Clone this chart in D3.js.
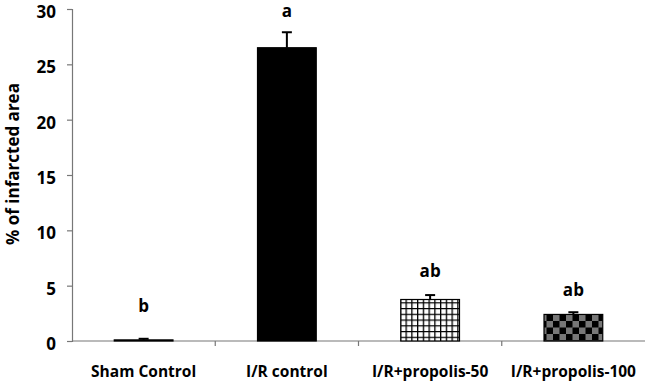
<!DOCTYPE html>
<html>
<head>
<meta charset="utf-8">
<script src="https://cdn.jsdelivr.net/npm/d3@7"></script>
<style>
  body { margin: 0; background: #fff; }
  svg { display: block; font-family: "Open Sans", Lato, sans-serif; font-weight: bold; }
</style>
</head>
<body>
<div id="chart"></div>
<script>
// data
const groups = ["Sham Control", "I/R control", "I/R+propolis-50", "I/R+propolis-100"];
const means = [0.1, 26.5, 3.75, 2.4];
const errs = [0.1, 1.4, 0.4, 0.2];
const letters = ["b", "a", "ab", "ab"];
const letterAt = [2.6, 29.3, 5.8, 4.1];
const yTicks = [0, 5, 10, 15, 20, 25, 30];

const W = 646, H = 383;
const margin = { top: 9, right: 1, bottom: 42, left: 72 };
const width = W - margin.left - margin.right;
const height = H - margin.top - margin.bottom;

const svg = d3.select("#chart").append("svg")
    .attr("width", W).attr("height", H);

const defs = svg.append("defs");

// grid pattern (white squares, black lines)
const grid = defs.append("pattern")
    .attr("id", "grid").attr("patternUnits", "userSpaceOnUse")
    .attr("width", 5.75).attr("height", 5.75);
grid.append("rect").attr("width", 5.75).attr("height", 5.75).attr("fill", "#fff");
grid.append("path").attr("d", "M0,0H5.75M0,0V5.75")
    .attr("stroke", "#000").attr("stroke-width", 2.6);

// checker pattern (black / gray)
const chk = defs.append("pattern")
    .attr("id", "checker").attr("patternUnits", "userSpaceOnUse")
    .attr("width", 13).attr("height", 13);
chk.append("rect").attr("width", 13).attr("height", 13).attr("fill", "#777");
chk.append("rect").attr("width", 6.5).attr("height", 6.5).attr("fill", "#000");
chk.append("rect").attr("x", 6.5).attr("y", 6.5).attr("width", 6.5).attr("height", 6.5).attr("fill", "#000");

const fills = ["#000", "#000", "url(#grid)", "url(#checker)"];

const g = svg.append("g").attr("transform", `translate(${margin.left},${margin.top})`);

const x = d3.scaleBand().domain(groups).range([0, width]).paddingInner(0.59).paddingOuter(0.295);
const xOuter = d3.scaleBand().domain(groups).range([0, width]);
const y = d3.scaleLinear().domain([0, 30]).range([height, 0]);

// y axis
const yAxis = g.append("g")
    .call(d3.axisLeft(y).tickValues(yTicks).tickSize(5).tickPadding(11));
yAxis.select(".domain").attr("stroke", "#777").attr("stroke-width", 1.2);
yAxis.selectAll(".tick line").attr("stroke", "#777").attr("stroke-width", 1.2);
yAxis.selectAll(".tick text")
    .attr("dy", "0.5em")
    .style("font-size", "17px").style("font-weight", "bold").attr("fill", "#000")
    .attr("font-family", "Open Sans, sans-serif");

// x axis line + category boundary ticks
g.append("line")
    .attr("x1", 0).attr("x2", width).attr("y1", height).attr("y2", height)
    .attr("stroke", "#777").attr("stroke-width", 1.2);
g.selectAll(".xtick")
    .data(groups.slice(1))
    .join("line")
    .attr("x1", d => xOuter(d)).attr("x2", d => xOuter(d))
    .attr("y1", height).attr("y2", height + 5)
    .attr("stroke", "#777").attr("stroke-width", 1.2);

g.selectAll(".xlabel")
    .data(groups)
    .join("text")
    .attr("x", d => xOuter(d) + xOuter.bandwidth() / 2)
    .attr("y", height + 36)
    .attr("text-anchor", "middle")
    .style("font-size", "15.5px")
    .text(d => d);

// bars
g.selectAll(".bar")
    .data(groups)
    .join("rect")
    .attr("x", d => x(d))
    .attr("width", x.bandwidth())
    .attr("y", (d, i) => y(means[i]))
    .attr("height", (d, i) => height - y(means[i]))
    .attr("fill", (d, i) => fills[i])
    .attr("stroke", "#000")
    .attr("stroke-width", 1.2);

// error bars (upper only)
const eb = g.selectAll(".err").data(groups).join("g");
eb.append("line")
    .attr("x1", d => x(d) + x.bandwidth() / 2).attr("x2", d => x(d) + x.bandwidth() / 2)
    .attr("y1", (d, i) => y(means[i])).attr("y2", (d, i) => y(means[i] + errs[i]))
    .attr("stroke", "#000").attr("stroke-width", 2);
eb.append("line")
    .attr("x1", d => x(d) + x.bandwidth() / 2 - 5).attr("x2", d => x(d) + x.bandwidth() / 2 + 5)
    .attr("y1", (d, i) => y(means[i] + errs[i])).attr("y2", (d, i) => y(means[i] + errs[i]))
    .attr("stroke", "#000").attr("stroke-width", 2);

// significance letters
g.selectAll(".letter")
    .data(groups)
    .join("text")
    .attr("x", d => x(d) + x.bandwidth() / 2)
    .attr("y", (d, i) => y(letterAt[i]))
    .attr("text-anchor", "middle")
    .style("font-size", "17px")
    .text((d, i) => letters[i]);

// y axis title
svg.append("text")
    .attr("transform", `translate(19, ${margin.top + height / 2 - 11}) rotate(-90)`)
    .attr("text-anchor", "middle")
    .style("font-size", "17px")
    .text("% of infarcted area");
</script>
</body>
</html>
